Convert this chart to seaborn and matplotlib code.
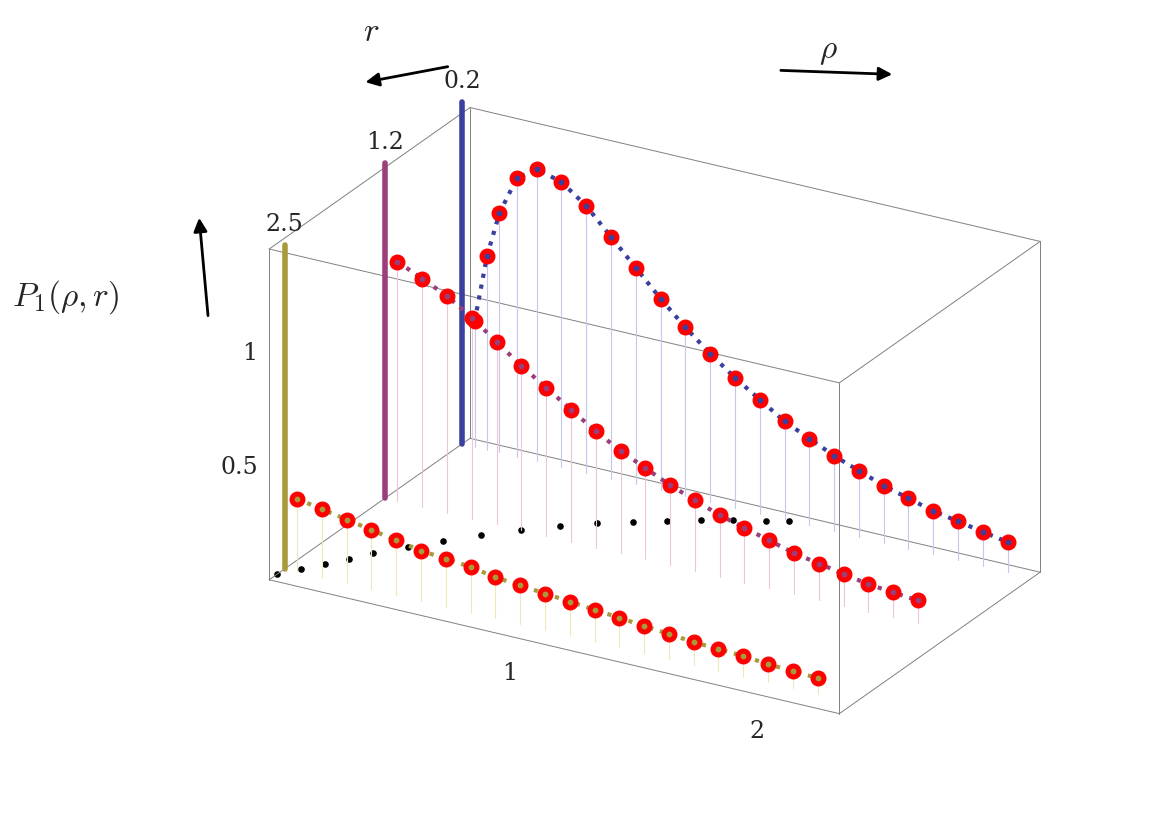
import numpy as np
import matplotlib
matplotlib.use("Agg")
import matplotlib.pyplot as plt
import seaborn as sns

sns.set_style("white")
plt.rcParams["mathtext.fontset"] = "cm"

# values
r_levels = [0.2, 1.2, 2.5]
bar_top = [1.5, 1.47, 1.42]
colors = ["#3b3f9e", "#9b3f7a", "#a89a3a"]
drop_colors = ["#c4c8ee", "#eec4d8", "#eee8b8"]

rho_02 = [0.05, 0.1, 0.15, 0.22, 0.3, 0.4, 0.5, 0.6, 0.7, 0.8, 0.9, 1.0, 1.1, 1.2, 1.3, 1.4, 1.5, 1.6, 1.7, 1.8, 1.9, 2.0, 2.1, 2.2]
P_02 = [0.55, 0.85, 1.05, 1.22, 1.28, 1.25, 1.17, 1.06, 0.95, 0.84, 0.74, 0.65, 0.57, 0.5, 0.43, 0.38, 0.33, 0.29, 0.25, 0.22, 0.19, 0.17, 0.15, 0.13]

rho_12 = [0.05, 0.15, 0.25, 0.35, 0.45, 0.55, 0.65, 0.75, 0.85, 0.95, 1.05, 1.15, 1.25, 1.35, 1.45, 1.55, 1.65, 1.75, 1.85, 1.95, 2.05, 2.15]
P_12 = [1.05, 1.0, 0.95, 0.88, 0.8, 0.72, 0.65, 0.58, 0.51, 0.45, 0.4, 0.35, 0.31, 0.27, 0.24, 0.21, 0.18, 0.16, 0.14, 0.12, 0.11, 0.1]

rho_25 = [0.05, 0.15, 0.25, 0.35, 0.45, 0.55, 0.65, 0.75, 0.85, 0.95, 1.05, 1.15, 1.25, 1.35, 1.45, 1.55, 1.65, 1.75, 1.85, 1.95, 2.05, 2.15]
P_25 = [0.32, 0.3, 0.28, 0.26, 0.24, 0.22, 0.21, 0.2, 0.18, 0.17, 0.16, 0.15, 0.14, 0.13, 0.12, 0.11, 0.1, 0.095, 0.09, 0.08, 0.075, 0.07]

floor_rho = [0.0, 0.05, 0.1, 0.15, 0.2, 0.28, 0.36, 0.45, 0.55, 0.65, 0.75, 0.85, 0.95, 1.05, 1.15, 1.25, 1.32]
floor_r = [2.6, 2.45, 2.3, 2.15, 2.0, 1.8, 1.6, 1.4, 1.2, 1.02, 0.86, 0.72, 0.6, 0.48, 0.38, 0.28, 0.2]

curves = [(rho_02, P_02), (rho_12, P_12), (rho_25, P_25)]

fig = plt.figure(figsize=(11.7, 8.27), dpi=100)
ax = fig.add_axes([0.14, -0.01, 0.82, 1.0], projection="3d", proj_type="ortho")
ax.set_axis_off()
ax.view_init(elev=24, azim=-60)

xl, yl, zl = (0, 2.3), (-2.7, -0.1), (0, 1.45)
ax.set_xlim(*xl); ax.set_ylim(*yl); ax.set_zlim(*zl)
ax.set_box_aspect((2.0, 1.22, 1.1))

# box edges
for a in xl:
    for b in yl:
        ax.plot([a, a], [b, b], zl, color="gray", lw=0.7)
    for c in zl:
        ax.plot([a, a], yl, [c, c], color="gray", lw=0.7)
for b in yl:
    for c in zl:
        ax.plot(xl, [b, b], [c, c], color="gray", lw=0.7)

for r, top, col, dcol, (rho, P) in zip(r_levels, bar_top, colors, drop_colors, curves):
    y = -r
    ax.plot([0, 0], [y, y], [0, top], color=col, lw=4)
    ax.text(0, y, top + 0.06, str(r), fontsize=17, family="DejaVu Serif", ha="center")
    for x, z in zip(rho, P):
        ax.plot([x, x], [y, y], [0, z], color=dcol, lw=0.8)
    ax.plot(rho, [y] * len(rho), P, color=col, lw=3, ls=":")
    ax.scatter(rho, [y] * len(rho), P, color="red", s=110, depthshade=False)
    ax.scatter(rho, [y] * len(rho), P, color=col, s=10, depthshade=False)

ax.scatter(floor_rho, [-v for v in floor_r], [0] * len(floor_r), color="black", s=14, depthshade=False)

# tick labels
for z, t in [(0.5, "0.5"), (1.0, "1")]:
    ax.text(0, yl[0] - 0.15, z, t, fontsize=17, family="DejaVu Serif", ha="right")
for x, t in [(1, "1"), (2, "2")]:
    ax.text(x, yl[0] - 0.1, -0.08, t, fontsize=17, family="DejaVu Serif", ha="center", va="top")

ov = fig.add_axes([0, 0, 1, 1])
ov.set_xlim(0, 1); ov.set_ylim(0, 1); ov.set_axis_off()
ov.patch.set_alpha(0)
arrow = dict(arrowstyle="-|>", color="black", lw=2, mutation_scale=20)
ov.text(0.31, 0.95, r"$r$", fontsize=24)
ov.annotate("", xy=(0.31, 0.9), xytext=(0.385, 0.92), arrowprops=arrow)
ov.text(0.70, 0.93, r"$\rho$", fontsize=24)
ov.annotate("", xy=(0.765, 0.91), xytext=(0.665, 0.915), arrowprops=arrow)
ov.text(0.01, 0.63, r"$P_1(\rho,r)$", fontsize=24)
ov.annotate("", xy=(0.17, 0.74), xytext=(0.178, 0.615), arrowprops=arrow)

fig.savefig("out.png", dpi=100)
